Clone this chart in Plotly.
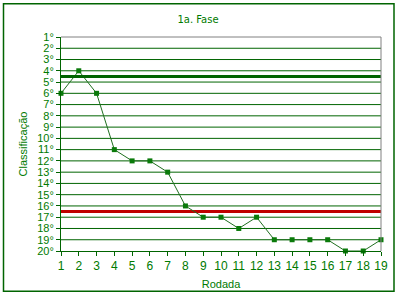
import plotly.graph_objects as go

rodadas = list(range(1, 20))
classificacao = [6, 4, 6, 11, 12, 12, 13, 16, 17, 17, 18, 17, 19, 19, 19, 19, 20, 20, 19]
y_ticks = list(range(1, 21))
y_ticktext = [f"{v}°" for v in y_ticks]
linha_verde = 4.5
linha_vermelha = 16.5

G = "#006400"
T = "#007a00"
fig = go.Figure()
fig.add_trace(go.Scatter(
    x=rodadas, y=classificacao, mode="lines+markers",
    line=dict(color="#1f6f1f", width=1),
    marker=dict(symbol="square", size=5, color="#0a7a0a"),
    showlegend=False, cliponaxis=False))

shapes = []
for v in range(2, 20):
    shapes.append(dict(type="line", xref="paper", x0=0, x1=1, yref="y", y0=v, y1=v,
                       line=dict(color=G, width=1), layer="below"))
shapes.append(dict(type="line", xref="paper", x0=0, x1=1, yref="y", y0=linha_verde, y1=linha_verde,
                   line=dict(color=G, width=3)))
shapes.append(dict(type="line", xref="paper", x0=0, x1=1, yref="y", y0=linha_vermelha, y1=linha_vermelha,
                   line=dict(color="#c00000", width=3), layer="below"))
# gray top/right frame
shapes.append(dict(type="line", xref="paper", yref="paper", x0=0, x1=1, y0=1, y1=1,
                   line=dict(color="#808080", width=1)))
shapes.append(dict(type="line", xref="paper", yref="paper", x0=1, x1=1, y0=0, y1=1,
                   line=dict(color="#808080", width=1)))
# outer border
shapes.append(dict(type="rect", xref="paper", yref="paper",
                   x0=(3.5 - 61) / 320, x1=(394 - 61) / 320,
                   y0=(253 - 293.5) / 216, y1=(253 - 3.5) / 216,
                   line=dict(color=G, width=1.5)))

fig.update_layout(
    width=400, height=300,
    margin=dict(l=61, r=19, t=37, b=47),
    paper_bgcolor="white", plot_bgcolor="white",
    font=dict(family="Liberation Sans, Arial", size=11, color=T),
    title=dict(text="1a. Fase", x=0.495, xanchor="center", y=1 - 19 / 300, yanchor="middle",
               font=dict(size=10, color=T, family="DejaVu Sans")),
    shapes=shapes,
    xaxis=dict(range=[1, 19], tickvals=rodadas, showgrid=False, zeroline=False,
               showline=True, linecolor=G, linewidth=1,
               ticks="outside", ticklen=4, tickcolor=G,
               tickfont=dict(size=12, color=T),
               title=dict(text="Rodada", font=dict(size=11, color=T), standoff=7)),
    yaxis=dict(range=[20, 1], tickvals=y_ticks, ticktext=y_ticktext, showgrid=False, zeroline=False,
               showline=True, linecolor=G, linewidth=1,
               ticks="outside", ticklen=4, tickcolor=G,
               tickfont=dict(size=11, color=T),
               title=dict(text="Classificação", font=dict(size=11, color=T), standoff=7)),
)
fig.write_html("out.html")
